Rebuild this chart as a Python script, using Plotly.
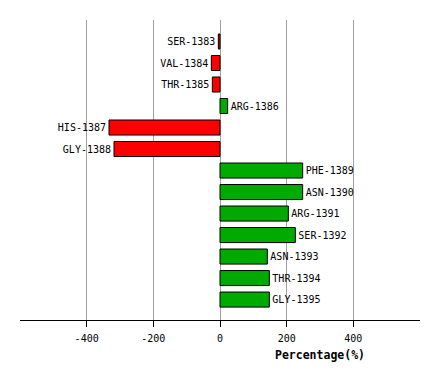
import plotly.graph_objects as go

residues = ["SER-1383", "VAL-1384", "THR-1385", "ARG-1386", "HIS-1387", "GLY-1388",
            "PHE-1389", "ASN-1390", "ARG-1391", "SER-1392", "ASN-1393", "THR-1394", "GLY-1395"]
percentages = [-5, -26, -23, 23, -333, -318, 248, 248, 205, 226, 142, 148, 148]
tick_values = [-400, -200, 0, 200, 400]
tick_labels = ["-400", "-200", "0", "200", "400"]

colors = ["#FF0000" if v < 0 else "#00AA00" for v in percentages]

fig = go.Figure()
fig.add_trace(go.Bar(
    x=percentages,
    y=residues,
    orientation="h",
    width=0.7,
    marker=dict(color=colors, line=dict(color="black", width=1)),
    text=residues,
    textposition="outside",
    textangle=0,
    constraintext="none",
    cliponaxis=False,
    textfont=dict(family="DejaVu Sans Mono", size=10, color="black"),
    hoverinfo="x+y",
))

fig.update_layout(
    width=440, height=380,
    margin=dict(l=20, r=20, t=20, b=60),
    paper_bgcolor="white",
    plot_bgcolor="white",
    showlegend=False,
    xaxis=dict(
        range=[-600, 600],
        tickvals=tick_values,
        ticktext=tick_labels,
        showgrid=True,
        gridcolor="#A0A0A0",
        gridwidth=1,
        zeroline=True,
        zerolinecolor="#A0A0A0",
        zerolinewidth=1,
        showline=True,
        linecolor="black",
        linewidth=1,
        ticks="outside",
        ticklen=6,
        tickcolor="black",
        ticklabelstandoff=3,
        tickfont=dict(family="DejaVu Sans Mono", size=10, color="black"),
        fixedrange=True,
    ),
    yaxis=dict(
        type="category",
        categoryorder="array",
        categoryarray=residues,
        range=[12.95, -1.0],
        showticklabels=False,
        showgrid=False,
        zeroline=False,
        showline=False,
        ticks="",
        fixedrange=True,
    ),
    annotations=[dict(
        text="<b>Percentage(%)</b>",
        xref="paper", yref="paper",
        x=0.75, y=0, xanchor="center", yanchor="middle",
        yshift=-35, showarrow=False,
        font=dict(family="DejaVu Sans Mono", size=11.5, color="black"),
    )],
)

fig.write_html(
    "out.html",
    config={"displayModeBar": False},
    post_script="document.body.style.margin='0';document.body.style.overflow='hidden';",
)
